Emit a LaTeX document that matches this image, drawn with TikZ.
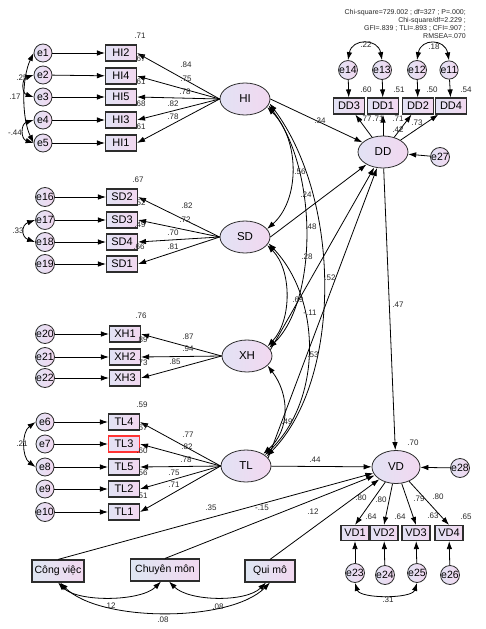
\documentclass[tikz,border=0pt]{standalone}
\usepackage{fontspec}
\setmainfont{Liberation Sans}
\usetikzlibrary{arrows.meta,shapes.geometric}
\definecolor{lavL}{RGB}{226,226,244}
\definecolor{lavR}{RGB}{242,216,240}
\definecolor{bluL}{RGB}{222,230,242}
\definecolor{bdr}{RGB}{45,45,45}
\definecolor{txt}{RGB}{40,40,40}
\tikzset{
  obs/.style={draw=bdr, line width=1.1pt, left color=lavL, right color=lavR, minimum width=31pt, minimum height=16pt, inner sep=0pt, font=\fontsize{11}{11}\selectfont},
  obsv/.style={obs, minimum width=28pt, minimum height=15pt},
  ctl/.style={draw=bdr, line width=1.1pt, left color=bluL, right color=lavR, minimum height=22pt, inner sep=0pt, font=\fontsize{10.5}{10.5}\selectfont},
  lat/.style={ellipse, draw=bdr, line width=0.8pt, left color=lavL, right color=lavR, minimum width=50pt, minimum height=32pt, inner sep=0pt, font=\fontsize{11.5}{11.5}\selectfont},
  err/.style={circle, draw=bdr, line width=0.8pt, left color=lavL, right color=lavR, minimum size=18pt, inner sep=0pt, font=\fontsize{10.5}{10.5}\selectfont},
  arr/.style={-{Latex[length=8pt,width=5.5pt]}, line width=0.8pt, draw=black},
  dbl/.style={{Latex[length=8pt,width=5.5pt]}-{Latex[length=8pt,width=5.5pt]}, line width=0.8pt, draw=black},
  lbl/.style={font=\fontsize{8}{8}\selectfont, inner sep=0pt, text=txt},
}
\begin{document}
\begin{tikzpicture}[x=1pt,y=-1pt]
\useasboundingbox[fill=white] (0,0) rectangle (486,629);

% stats
\node[anchor=north east, align=right, inner sep=0pt, font=\fontsize{7}{8}\selectfont, text=txt] (stats) at (466,9)
 {Chi-square=729.002 ; df=327 ; P=.000;\\Chi-square/df=2.229 ;\\GFI=.839 ; TLI=.893 ; CFI=.907 ;\\RMSEA=.070};

% ---------- HI block
\foreach \n/\y in {1/53,2/75,3/97,4/120,5/143}{\node[err] (e\n) at (43,\y) {e\n};}
\node[obs] (HI2) at (121,53) {HI2};
\node[obs] (HI4) at (121,76) {HI4};
\node[obs] (HI5) at (121,97) {HI5};
\node[obs] (HI3) at (121,120) {HI3};
\node[obs] (HI1) at (121,143) {HI1};
\node[lat] (HI) at (245,99) {HI};
\draw[arr] (e1) -- (HI2); \draw[arr] (e2) -- (HI4); \draw[arr] (e3) -- (HI5);
\draw[arr] (e4) -- (HI3); \draw[arr] (e5) -- (HI1);
\foreach \b in {HI2,HI4,HI5,HI3,HI1}{\draw[arr] (HI.west) -- (\b.east);}
\draw[dbl] (e2.west) .. controls +(-12,4) and +(-12,-4) .. (e3.west);
\draw[dbl] (e1.west) .. controls +(-12,25) and +(-12,-25) .. (e5.west);
\draw[dbl] (e4.west) .. controls +(-13,4) and +(-13,-4) .. (e5.west);

% ---------- SD block
\foreach \n/\y in {16/197,17/220,18/242,19/264}{\node[err] (e\n) at (45,\y) {e\n};}
\node[obs] (SD2) at (122,197) {SD2};
\node[obs] (SD3) at (122,220) {SD3};
\node[obs] (SD4) at (122,242) {SD4};
\node[obs] (SD1) at (122,264) {SD1};
\node[lat] (SD) at (245,237) {SD};
\draw[arr] (e16) -- (SD2); \draw[arr] (e17) -- (SD3); \draw[arr] (e18) -- (SD4); \draw[arr] (e19) -- (SD1);
\foreach \b in {SD2,SD3,SD4,SD1}{\draw[arr] (SD.west) -- (\b.east);}
\draw[dbl] (e17.west) .. controls +(-14,5) and +(-14,-5) .. (e18.west);

% ---------- XH block
\foreach \n/\y in {20/334,21/357,22/378}{\node[err] (e\n) at (45,\y) {e\n};}
\node[obs] (XH1) at (125,334) {XH1};
\node[obs] (XH2) at (125,357) {XH2};
\node[obs] (XH3) at (125,378) {XH3};
\node[lat] (XH) at (247,356) {XH};
\draw[arr] (e20) -- (XH1); \draw[arr] (e21) -- (XH2); \draw[arr] (e22) -- (XH3);
\foreach \b in {XH1,XH2,XH3}{\draw[arr] (XH.west) -- (\b.east);}

% ---------- TL block
\foreach \n/\y in {6/422,7/444,8/467,9/489,10/512}{\node[err] (e\n) at (45,\y) {e\n};}
\node[obs] (TL4) at (124,422) {TL4};
\node[obs, draw=red!80] (TL3) at (124,444) {TL3};
\node[obs] (TL5) at (124,467) {TL5};
\node[obs] (TL2) at (124,489) {TL2};
\node[obs] (TL1) at (124,512) {TL1};
\node[lat] (TL) at (246,466) {TL};
\draw[arr] (e6) -- (TL4); \draw[arr] (e7) -- (TL3); \draw[arr] (e8) -- (TL5);
\draw[arr] (e9) -- (TL2); \draw[arr] (e10) -- (TL1);
\foreach \b in {TL4,TL3,TL5,TL2,TL1}{\draw[arr] (TL.west) -- (\b.east);}
\draw[dbl] (e6.west) .. controls +(-14,10) and +(-14,-10) .. (e8.west);

% ---------- DD block
\node[err] (e14) at (348,70) {e14};
\node[err] (e13) at (382,70) {e13};
\node[err] (e12) at (417,70) {e12};
\node[err] (e11) at (449,70) {e11};
\node[obs] (DD3) at (349,106) {DD3};
\node[obs] (DD1) at (383,106) {DD1};
\node[obs] (DD2) at (418,106) {DD2};
\node[obs] (DD4) at (451,106) {DD4};
\node[lat] (DD) at (383,152) {DD};
\node[err] (e27) at (440,157) {e27};
\draw[arr] (e14) -- (DD3); \draw[arr] (e13) -- (DD1); \draw[arr] (e12) -- (DD2); \draw[arr] (e11) -- (DD4);
\foreach \b in {DD3,DD1,DD2,DD4}{\draw[arr] (DD) -- (\b);}
\draw[arr] (e27) -- (DD);
\draw[dbl] (e14.north) .. controls +(4,-22) and +(-4,-22) .. (e13.north);
\draw[dbl] (e12.north) .. controls +(4,-22) and +(-4,-22) .. (e11.north);

% ---------- VD block
\node[lat, minimum width=48pt, minimum height=33pt] (VD) at (396,467) {VD};
\node[err] (e28) at (460,468) {e28};
\node[obsv] (VD1) at (355,533) {VD1};
\node[obsv] (VD2) at (384,533) {VD2};
\node[obsv] (VD3) at (416,533) {VD3};
\node[obsv] (VD4) at (449,533) {VD4};
\node[err] (e23) at (355,573) {e23};
\node[err] (e24) at (385,575) {e24};
\node[err] (e25) at (417,573) {e25};
\node[err] (e26) at (450,575) {e26};
\draw[arr] (e28) -- (VD);
\foreach \b in {VD1,VD2,VD3,VD4}{\draw[arr] (VD) -- (\b.north);}
\draw[arr] (e23) -- (VD1); \draw[arr] (e24) -- (VD2); \draw[arr] (e25) -- (VD3); \draw[arr] (e26) -- (VD4);
\draw[dbl] (e23.south) .. controls +(5,16) and +(-5,16) .. (e25.south);

% ---------- control variables
\node[ctl, minimum width=52pt] (cv) at (58,571) {Công việc};
\node[ctl, minimum width=69pt] (cm) at (165,570) {Chuyên môn};
\node[ctl, minimum width=50pt] (qm) at (270,571) {Qui mô};
\draw[arr] (cv.north) -- (VD);
\draw[arr] (cm.north) -- (VD);
\draw[arr] (qm.north) -- (VD);
\draw[dbl] (cv.south) .. controls +(20,20) and +(-20,20) .. ([xshift=-4pt]cm.south);
\draw[dbl] ([xshift=4pt]cm.south) .. controls +(20,20) and +(-20,20) .. ([xshift=-4pt]qm.south);
\draw[dbl] ([xshift=2pt]cv.south) .. controls +(40,40) and +(-40,40) .. (qm.south);

% ---------- structural paths
\draw[arr] (HI.east) -- (DD);
\draw[arr] (SD.east) -- (DD);
\draw[arr] (XH.15) -- (DD);
\draw[arr] (TL.20) -- (DD);
\draw[arr] (DD) -- (VD);
\draw[arr] (TL) -- (VD);
\draw[dbl] (HI.-20) .. controls (300,140) and (300,200) .. (SD.20);
\draw[dbl] (HI.-15) .. controls (318,170) and (318,300) .. (XH.20);
\draw[dbl] (HI.-10) .. controls (342,200) and (342,380) .. (TL.25);
\draw[dbl] (SD.-20) .. controls (292,270) and (292,320) .. (XH.25);
\draw[dbl] (SD.-15) .. controls (322,300) and (322,400) .. (TL.30);
\draw[dbl] (XH.-25) .. controls (290,395) and (290,430) .. (TL.35);

% ---------- labels
\foreach \t/\x/\y in {
 .71/140/36, .84/186/65, .67/140/59, .75/186/79, .61/140/82, .78/185/92, .68/140/104, .82/173/104, .78/173/117, .61/140/127,
 .25/22/78, .17/15/97, -.44/15/133,
 .67/138/180, .82/187/206, .52/140/203, .72/185/220, .49/140/225, .70/173/233, .66/139/247, .81/173/247, .33/18/231,
 .76/141/316, .87/188/337, .89/142/340, .94/188/349, .73/142/363, .85/175/362,
 .59/142/405, .77/188/435, .67/142/428, .82/187/447, .60/142/451, .78/186/460, .56/142/473, .75/174/473, .51/142/496, .71/174/485, .21/22/444,
 .60/366/90, .51/399/90, .50/432/90, .54/466/90, .22/366/45, .18/434/47, .77/366/119, .71/378/119, .71/398/119, .73/417/123, .42/398/130,
 .34/320/121, .56/300/172, .24/306/195, .48/311/227, .28/307/257, .69/298/300, -.11/310/313, .52/330/278, .53/313/355, .49/287/422, .47/398/305, .44/315/460,
 .70/413/443, .80/361/498, .80/381/500, .79/419/499, .80/438/497, .64/371/517, .64/400/517, .63/433/516, .65/466/517, .31/388/600,
 .35/211/508, -.15/262/508, .12/313/512, .12/110/606, .08/218/607, .08/163/620}
 {\node[lbl] at (\x,\y) {\t};}
\end{tikzpicture}
\end{document}
